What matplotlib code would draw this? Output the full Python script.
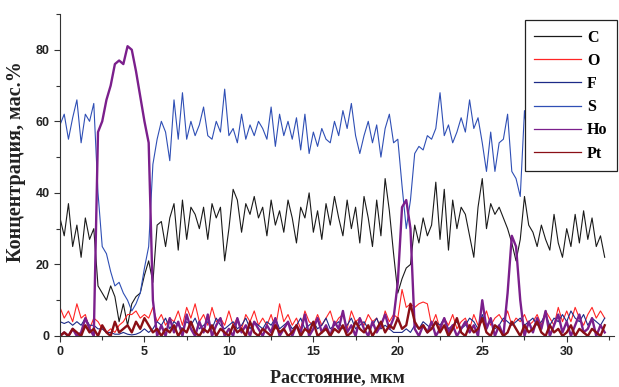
#!/usr/bin/env python3

import numpy as np
import matplotlib.pyplot as plt
from matplotlib.ticker import MultipleLocator

# EDX line scan, step 0.25 um
step = 0.25
n_points = 130
distance = np.arange(n_points) * step

c_vals = [33, 28, 37, 25, 31, 22, 33, 27,
          30, 14, 12, 10, 14, 11, 4, 9,
          3, 9, 11, 12, 17, 21, 15, 31,
          32, 25, 33, 37, 24, 38, 27, 36,
          34, 30, 36, 27, 37, 33, 36, 21,
          30, 41, 38, 29, 37, 34, 39, 33,
          36, 28, 38, 31, 35, 29, 38, 33,
          26, 36, 33, 40, 29, 35, 27, 37,
          31, 39, 33, 28, 38, 30, 36, 26,
          39, 33, 25, 38, 28, 44, 35, 23,
          12, 16, 19, 20, 31, 26, 33, 28,
          31, 43, 27, 41, 24, 38, 30, 36,
          34, 28, 22, 36, 44, 30, 37, 34,
          36, 33, 30, 26, 21, 27, 39, 31,
          29, 25, 31, 27, 24, 34, 26, 22,
          30, 25, 34, 26, 35, 27, 33, 25,
          28, 22]

o_vals = [8, 5, 7, 4, 9, 5, 6, 2,
          5, 4, 2, 1, 2, 1, 3, 4,
          6, 6, 7, 5, 6, 5, 8, 4,
          6, 3, 5, 4, 7, 3, 8, 5,
          9, 4, 6, 3, 8, 4, 5, 3,
          7, 3, 5, 2, 6, 4, 7, 3,
          5, 3, 6, 2, 9, 4, 6, 3,
          5, 2, 7, 4, 3, 6, 3, 5,
          7, 3, 5, 6, 2, 7, 4, 5,
          3, 6, 4, 5, 2, 7, 4, 6,
          5, 13, 8, 9, 8, 9, 9.5, 9,
          3, 6, 2, 5, 3, 6, 2, 4,
          5, 2, 6, 3, 4, 7, 3, 5,
          6, 4, 7, 3, 5, 4, 6, 3,
          4, 6, 3, 7, 5, 3, 8, 4,
          7, 4, 8, 5, 3, 6, 8, 5,
          7, 5]

f_vals = [4, 3.5, 4, 3, 4, 3, 5, 3,
          3, 2, 2, 1, 1, 0.5, 0.5, 1,
          0.5, 0.3, 0.5, 1, 2, 1, 2, 4,
          3, 5, 2, 4, 3, 2, 4, 3,
          5, 2, 3, 4, 2, 5, 3, 2,
          3, 4, 2, 3, 5, 2, 4, 3,
          2, 4, 3, 5, 2, 3, 4, 2,
          3, 5, 2, 3, 4, 2, 3, 5,
          2, 3, 4, 2, 3, 5, 2, 3,
          4, 2, 3, 5, 2, 3, 2, 1,
          1, 1, 2, 1, 3, 2, 4, 3,
          2, 4, 3, 5, 2, 3, 4, 2,
          3, 5, 4, 2, 6, 3, 4, 2,
          3, 5, 4, 3, 4, 5, 3, 4,
          5, 3, 4, 6, 3, 5, 4, 6,
          4, 7, 5, 4, 6, 3, 5, 4,
          3, 5]

s_vals = [59, 62, 55, 61, 66, 54, 62, 60,
          65, 40, 25, 23, 18, 14, 15, 12,
          10, 7, 9, 12, 19, 25, 48, 55,
          60, 57, 49, 66, 55, 68, 55, 60,
          56, 59, 64, 56, 55, 60, 57, 69,
          56, 58, 54, 62, 55, 59, 56, 60,
          58, 55, 64, 53, 62, 56, 60, 55,
          61, 52, 62, 51, 57, 53, 58, 55,
          54, 60, 56, 63, 58, 65, 56, 51,
          56, 60, 54, 59, 50, 58, 62, 54,
          55, 42, 30, 38, 51, 53, 52, 56,
          55, 58, 68, 56, 59, 54, 57, 61,
          57, 66, 58, 61, 54, 46, 57, 46,
          54, 55, 62, 46, 44, 39, 63, 52,
          58, 55, 60, 54, 57, 53, 59, 56,
          57, 54, 60, 55, 58, 53, 56, 59,
          55, 57]

ho_vals = [0, 1, 0, 2, 0, 1, 5, 2,
           0, 57, 60, 66, 70, 76, 77, 76,
           81, 80, 74, 67, 60, 54, 10, 0,
           3, 0, 5, 1, 4, 0, 6, 2,
           0, 4, 1, 6, 0, 3, 5, 0,
           2, 0, 5, 1, 3, 0, 4, 2,
           0, 3, 1, 5, 0, 2, 4, 0,
           3, 1, 6, 0, 2, 5, 1, 3,
           0, 4, 2, 7, 1, 3, 0, 5,
           2, 0, 4, 1, 3, 6, 2, 5,
           15, 36, 38, 30, 2, 0, 3, 1,
           4, 0, 2, 5, 1, 3, 0, 2,
           4, 1, 3, 0, 10, 2, 5, 0,
           3, 0, 12, 28, 25, 10, 0, 4,
           1, 5, 2, 7, 0, 3, 6, 1,
           4, 0, 3, 6, 1, 2, 5, 0,
           3, 1]

pt_vals = [0, 1, 0, 2, 1, 0, 3, 1,
           2, 0, 3, 1, 0, 4, 1, 2,
           3, 1, 4, 2, 5, 3, 1, 2,
           0, 2, 1, 3, 0, 2, 1, 4,
           1, 0, 2, 1, 3, 0, 2, 1,
           0, 3, 1, 2, 0, 4, 1, 0,
           2, 1, 0, 3, 1, 2, 0, 1,
           3, 0, 2, 1, 4, 0, 1, 2,
           0, 2, 1, 3, 0, 1, 4, 2,
           1, 3, 0, 2, 4, 1, 3, 2,
           5, 2, 3, 9, 4, 2, 3, 1,
           2, 4, 1, 3, 0, 2, 5, 1,
           0, 3, 1, 2, 5, 1, 0, 3,
           2, 0, 1, 4, 2, 0, 3, 1,
           2, 4, 1, 0, 3, 1, 2, 0,
           1, 3, 0, 2, 1, 0, 2, 1,
           0, 3]

labels = ["C", "O", "F", "S", "Ho", "Pt"]
series = [c_vals, o_vals, f_vals, s_vals, ho_vals, pt_vals]
colors = ["#1a1a1a", "#ff2525", "#1c2a87", "#2f4fb5", "#7b1f8c", "#8a0f16"]
widths = [0.8, 0.8, 0.8, 0.8, 1.7, 1.7]

fig = plt.figure(figsize=(6.19, 3.87), dpi=100)
ax = fig.add_axes([60 / 619, 51 / 387, 554 / 619, 322 / 387])

for vals, lab, col, lw in zip(series, labels, colors, widths):
    ax.plot(distance, vals, color=col, lw=lw, label=lab)

ax.set_xlim(0, 32.8)
ax.set_ylim(0, 90)
ax.xaxis.set_major_locator(MultipleLocator(5))
ax.xaxis.set_minor_locator(MultipleLocator(2.5))
ax.yaxis.set_major_locator(MultipleLocator(20))
ax.yaxis.set_minor_locator(MultipleLocator(10))
ax.tick_params(which="both", direction="out", color="#333333", width=0.8)
ax.tick_params(which="major", length=4)
ax.tick_params(which="minor", length=3)

for lbl in ax.get_xticklabels() + ax.get_yticklabels():
    lbl.set_fontfamily("Liberation Sans")
    lbl.set_fontweight("bold")
    lbl.set_fontsize(9)
    lbl.set_color("#222222")

ax.spines["top"].set_visible(False)
ax.spines["right"].set_visible(False)
ax.spines["left"].set_color("#333333")
ax.spines["bottom"].set_color("#333333")

ax.set_xlabel("Расстояние, мкм", fontfamily="Liberation Serif", fontweight="bold",
              fontsize=13, color="#222222")
ax.xaxis.set_label_coords(0.501, -0.104)
ax.set_ylabel("Концентрация, мас.%", fontfamily="Liberation Serif", fontweight="bold",
              fontsize=14.5, color="#222222")
ax.yaxis.set_label_coords(-0.061, 0.543)

leg = ax.legend(loc="upper right", bbox_to_anchor=(617 / 619, 1 - 20 / 387),
                bbox_transform=fig.transFigure, borderaxespad=0, fancybox=False,
                frameon=True, edgecolor="#222222", framealpha=1, handlelength=2.9,
                labelspacing=0.45, borderpad=0.6, handletextpad=0.4,
                prop={"family": "Liberation Serif", "weight": "bold", "size": 11.5})
leg.get_frame().set_linewidth(0.9)
for h in leg.get_lines():
    h.set_linewidth(0.9)

fig.savefig("out.png", dpi=100)
